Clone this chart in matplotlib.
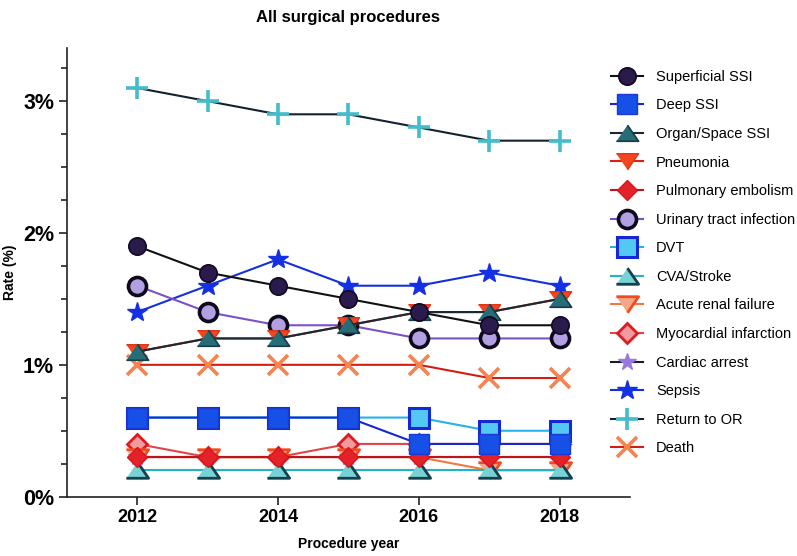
import matplotlib
matplotlib.use('Agg')
import matplotlib.pyplot as plt
from matplotlib.ticker import MultipleLocator, FixedLocator

plt.rcParams['font.family'] = ['Liberation Sans', 'DejaVu Sans']

# Datos
years = [2012, 2013, 2014, 2015, 2016, 2017, 2018]

superficial_ssi = [1.9, 1.7, 1.6, 1.5, 1.4, 1.3, 1.3]
deep_ssi = [0.6, 0.6, 0.6, 0.6, 0.4, 0.4, 0.4]
organ_space_ssi = [1.1, 1.2, 1.2, 1.3, 1.4, 1.4, 1.5]
pneumonia = [1.1, 1.2, 1.2, 1.3, 1.4, 1.4, 1.5]
pulmonary_embolism = [0.3, 0.3, 0.3, 0.3, 0.3, 0.3, 0.3]
uti = [1.6, 1.4, 1.3, 1.3, 1.2, 1.2, 1.2]
dvt = [0.6, 0.6, 0.6, 0.6, 0.6, 0.5, 0.5]
cva_stroke = [0.2, 0.2, 0.2, 0.2, 0.2, 0.2, 0.2]
acute_renal_failure = [0.3, 0.3, 0.3, 0.3, 0.3, 0.2, 0.2]
myocardial_infarction = [0.4, 0.3, 0.3, 0.4, 0.4, 0.4, 0.4]
cardiac_arrest = [0.3, 0.3, 0.3, 0.3, 0.3, 0.3, 0.3]
sepsis = [1.4, 1.6, 1.8, 1.6, 1.6, 1.7, 1.6]
return_to_or = [3.1, 3.0, 2.9, 2.9, 2.8, 2.7, 2.7]
death = [1.0, 1.0, 1.0, 1.0, 1.0, 0.9, 0.9]

labels = ['Superficial SSI', 'Deep SSI', 'Organ/Space SSI', 'Pneumonia',
          'Pulmonary embolism', 'Urinary tract infection', 'DVT', 'CVA/Stroke',
          'Acute renal failure', 'Myocardial infarction', 'Cardiac arrest',
          'Sepsis', 'Return to OR', 'Death']
series = [superficial_ssi, deep_ssi, organ_space_ssi, pneumonia, pulmonary_embolism,
          uti, dvt, cva_stroke, acute_renal_failure, myocardial_infarction,
          cardiac_arrest, sepsis, return_to_or, death]

# triángulos más anchos que altos
tri_up = [(-1, -0.7), (1, -0.7), (0, 0.75)]
tri_down = [(-1, 0.7), (1, 0.7), (0, -0.75)]

# (marker, size, face, edge, edge width, line color)
styles = [
    ('o', 12.5, '#2b1a4c', '#120a22', 1.2, '#111111'),
    ('s', 14.5, '#1650e6', '#1a3ad8', 1.0, '#1428d2'),
    (tri_up, 16, '#276d78', '#173c48', 1.2, '#172a36'),
    (tri_down, 16, '#f2461e', '#e43018', 1.0, '#e02010'),
    ('D', 10, '#e4222a', '#d8141c', 1.0, '#c0141a'),
    ('o', 13, '#b3a0e2', '#0e0a1c', 2.6, '#7a52c8'),
    ('s', 14, '#52c8f2', '#1428d6', 2.2, '#26b2ea'),
    (tri_up, 16, '#78d2d4', '#15404e', 2.0, '#22b4c4'),
    (tri_down, 16, '#f4a886', '#f24a20', 2.0, '#f07842'),
    ('D', 10, '#f29a9e', '#dc1a20', 2.0, '#e24448'),
    ('*', 13, '#9a78e2', '#9a78e2', 1.0, '#1a1a2a'),
    ('*', 15, '#1430e4', '#1430e4', 1.0, '#1430dc'),
    ('+', 16, '#44bccc', '#44bccc', 2.6, '#132230'),
    ('x', 14, '#f48452', '#f48452', 2.6, '#d21e10'),
]

fig = plt.figure(figsize=(7.97, 5.56), dpi=100)
ax = fig.add_axes([0.0837, 0.1067, 0.7068, 0.8063])

for i, (vals, lab, st) in enumerate(zip(series, labels, styles)):
    mk, ms, fc, ec, mew, lc = st
    ax.plot(years, vals, color=lc, lw=1.5, marker=mk, markersize=ms,
            markerfacecolor=fc, markeredgecolor=ec, markeredgewidth=mew,
            label=lab, zorder=100 - i, clip_on=False)

ax.set_xlim(2011, 2019)
ax.set_ylim(0, 3.4)
ax.xaxis.set_major_locator(FixedLocator([2012, 2014, 2016, 2018]))
ax.set_xticklabels(['2012', '2014', '2016', '2018'], fontsize=13, fontweight='bold')
ax.yaxis.set_major_locator(FixedLocator([0, 1, 2, 3]))
ax.yaxis.set_minor_locator(MultipleLocator(0.25))
ax.set_yticklabels(['0%', '1%', '2%', '3%'], fontsize=15.5, fontweight='bold')

for s in ['top', 'right']:
    ax.spines[s].set_visible(False)
for s in ['left', 'bottom']:
    ax.spines[s].set_linewidth(1.2)
    ax.spines[s].set_color('#222222')
ax.tick_params(which='major', length=6, width=1.2, color='#222222', pad=3)
ax.tick_params(which='minor', length=4, width=1.2, color='#222222')

ax.set_xlabel('Procedure year', fontsize=10, fontweight='bold', labelpad=8)
ax.set_ylabel('Rate (%)', fontsize=10, fontweight='bold')
ax.yaxis.set_label_coords(-0.088, 0.5)
ax.set_title('All surgical procedures', fontsize=12, fontweight='bold', pad=19)

fig.legend(loc='upper left', bbox_to_anchor=(0.759, 0.885), frameon=False,
           fontsize=10.5, labelspacing=1.0, handlelength=2.2, handletextpad=0.9,
           borderaxespad=0, markerscale=1.0)

plt.savefig('out.png', dpi=100)
